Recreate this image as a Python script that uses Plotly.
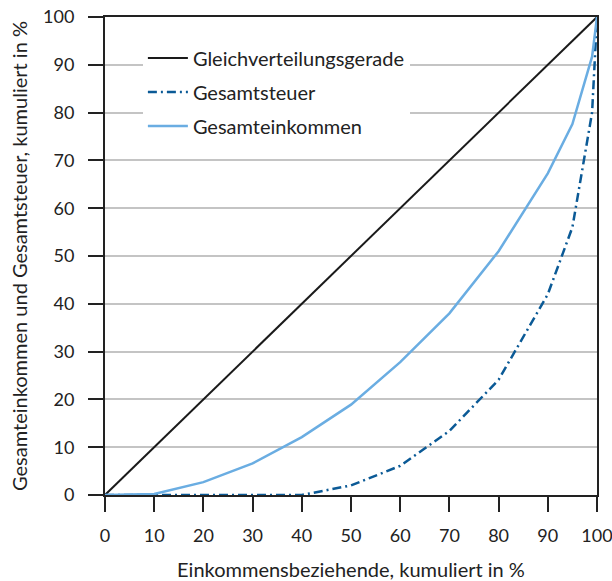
import plotly.graph_objects as go

x_pct = [0, 10, 20, 30, 40, 50, 60, 70, 80, 90, 95, 99, 100]
gleich = [0, 10, 20, 30, 40, 50, 60, 70, 80, 90, 95, 99, 100]
einkommen = [0, 0.2, 2.7, 6.6, 12.1, 18.9, 27.8, 38.0, 51.0, 67.3, 77.6, 91.7, 100]
steuer = [0, 0, 0, 0, 0, 2.0, 6.1, 13.4, 24.1, 42.0, 56.0, 80.0, 100]

x_ticks = [0, 10, 20, 30, 40, 50, 60, 70, 80, 90, 100]
y_ticks = [0, 10, 20, 30, 40, 50, 60, 70, 80, 90, 100]

FONT = "Lato, 'Open Sans', sans-serif"

fig = go.Figure()
fig.add_trace(go.Scatter(x=x_pct, y=gleich, mode="lines", name="Gleichverteilungsgerade",
                         line=dict(color="#1a1a1a", width=2), legendrank=1, legendgroup="a",
                         cliponaxis=False))
fig.add_trace(go.Scatter(x=x_pct, y=steuer, mode="lines", name="Gesamtsteuer",
                         line=dict(color="#0b5a96", width=2.5, dash="9px,4px,2px,4px"),
                         legendrank=2, legendgroup="b", cliponaxis=False))
fig.add_trace(go.Scatter(x=x_pct, y=einkommen, mode="lines", name="Gesamteinkommen",
                         line=dict(color="#6aade2", width=2.5), legendrank=3, legendgroup="c",
                         cliponaxis=False))

fig.update_layout(
    width=612, height=581,
    margin=dict(l=105, r=15, t=17, b=86, autoexpand=False),
    paper_bgcolor="white", plot_bgcolor="white",
    font=dict(family=FONT, size=18, color="#222222"),
    showlegend=True,
    legend=dict(x=0.077, y=0.955, xanchor="left", yanchor="top",
                bgcolor="white", borderwidth=0,
                font=dict(family=FONT, size=20, color="#222222"),
                itemwidth=40, tracegroupgap=5),
    xaxis=dict(range=[0, 100], tickvals=x_ticks, ticks="outside", ticklen=15, tickwidth=1.5,
               tickcolor="#222222", showline=True, linecolor="#222222", linewidth=2,
               mirror=True, showgrid=False, zeroline=False, automargin=False,
               ticklabelstandoff=8, ticklabeloverflow="allow", tickfont=dict(size=18),
               title=dict(text="Einkommensbeziehende, kumuliert in %", standoff=21,
                          font=dict(size=20))),
    yaxis=dict(range=[0, 100], tickvals=y_ticks, ticks="outside", ticklen=15, tickwidth=1.5,
               tickcolor="#222222", showline=True, linecolor="#222222", linewidth=2,
               mirror=True, showgrid=True, gridcolor="#c4c4c4", gridwidth=1.5,
               zeroline=False, automargin=False, ticklabelstandoff=10,
               ticklabeloverflow="allow", tickfont=dict(size=18),
               title=dict(text="Gesamteinkommen und Gesamtsteuer, kumuliert in %", standoff=10,
                          font=dict(size=20))),
)

fig.write_html("out.html", config={"displayModeBar": False},
               post_script="document.body.style.margin='0px';")
